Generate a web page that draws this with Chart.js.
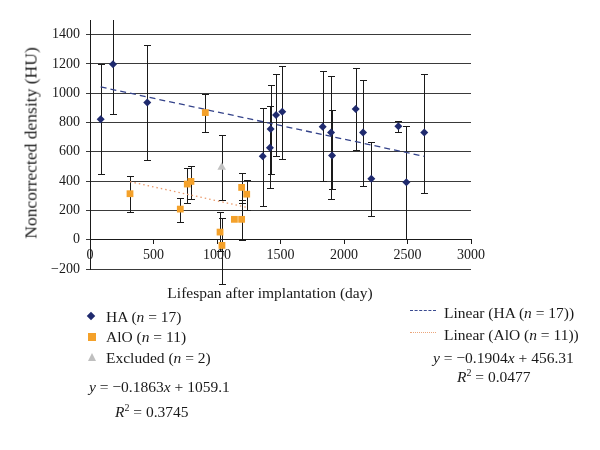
<!DOCTYPE html>
<html lang="en">
<head>
    <meta charset="UTF-8">
    <title>Noncorrected density vs lifespan</title>
    <script src="https://cdn.jsdelivr.net/npm/chart.js"></script>
    <style>
        body {
            margin: 0;
            background-color: #ffffff;
            font-family: "Liberation Serif", "DejaVu Serif", serif;
            color: #1a1a1a;
        }
        #wrap {
            position: relative;
            width: 600px;
            height: 450px;
            overflow: hidden;
        }
        canvas {
            position: absolute;
            left: 0;
            top: 0;
        }
        .txt {
            position: absolute;
            font-size: 15.5px;
            line-height: 16px;
            white-space: nowrap;
        }
        .ytitle {
            position: absolute;
            left: 31px;
            top: 143px;
            font-size: 17.5px;
            white-space: nowrap;
            transform: translate(-50%, -50%) rotate(-90deg);
        }
        .xtitle {
            position: absolute;
            left: 270px;
            top: 293px;
            font-size: 15.5px;
            white-space: nowrap;
            transform: translate(-50%, -50%);
        }
        .icon { position: absolute; }
    </style>
</head>
<body>
<div id="wrap">
    <canvas id="chart" width="600" height="450"></canvas>

    <div class="ytitle">Noncorrected density (HU)</div>
    <div class="xtitle">Lifespan after implantation (day)</div>

    <!-- left legend -->
    <div class="icon" style="left:88px;top:313px;width:6px;height:6px;background:#1f2a6e;transform:rotate(45deg);"></div>
    <div class="txt" style="left:106px;top:309px;">HA (<i>n</i> = 17)</div>
    <div class="icon" style="left:88px;top:333px;width:8px;height:8px;background:#f4a12a;"></div>
    <div class="txt" style="left:106px;top:329px;">AlO (<i>n</i> = 11)</div>
    <div class="icon" style="left:88px;top:353px;width:0;height:0;border-left:4.5px solid transparent;border-right:4.5px solid transparent;border-bottom:8px solid #bfbfbf;"></div>
    <div class="txt" style="left:106px;top:350px;">Excluded (<i>n</i> = 2)</div>
    <div class="txt" style="left:89px;top:379px;"><i>y</i> = −0.1863<i>x</i> + 1059.1</div>
    <div class="txt" style="left:115px;top:404px;"><i>R</i><sup style="font-size:10px;line-height:0;">2</sup> = 0.3745</div>

    <!-- right legend -->
    <div class="icon" style="left:410px;top:310px;width:26px;border-top:1.5px dashed #3a4a90;"></div>
    <div class="txt" style="left:444px;top:305px;">Linear (HA (<i>n</i> = 17))</div>
    <div class="icon" style="left:410px;top:332px;width:26px;border-top:1.5px dotted #eba57a;"></div>
    <div class="txt" style="left:444px;top:327px;">Linear (AlO (<i>n</i> = 11))</div>
    <div class="txt" style="left:433px;top:350px;"><i>y</i> = −0.1904<i>x</i> + 456.31</div>
    <div class="txt" style="left:457px;top:369px;"><i>R</i><sup style="font-size:10px;line-height:0;">2</sup> = 0.0477</div>
</div>

<script>
    // HA (n = 17): lifespan (day), density (HU), error bar ends
    const haDays = [84, 181, 451, 1360, 1417, 1422, 1465, 1514, 1832, 1898, 1906, 2092, 2150, 2215, 2428, 2491, 2632];
    const haHU   = [822, 1198, 936, 570, 627, 755, 852, 873, 772, 732, 575, 893, 732, 416, 775, 393, 732];
    const haHigh = [1198, 1540, 1331, 902, 916, 1057, 1132, 1188, 1154, 1120, 886, 1175, 1091, 666, 809, 773, 1134];
    const haLow  = [452, 857, 543, 232, 352, 450, 573, 550, 398, 277, 345, 613, 368, 164, 738, 5, 322];

    // AlO (n = 11)
    const aloDays = [315, 711, 766, 795, 908, 1024, 1039, 1137, 1194, 1194, 1234];
    const aloHU   = [314, 209, 380, 398, 868, 52, -39, 139, 139, 357, 311];
    const aloHigh = [436, 286, 489, 504, 998, 186, 148, null, 273, 454, 409];
    const aloLow  = [186, 120, 250, 280, 732, -80, -305, null, -5, 250, 205];

    // Excluded (n = 2) - only one is visible in the figure
    const exDays = [1037];
    const exHU   = [495];
    const exHigh = [718];
    const exLow  = [273];

    // trend lines (end points)
    const haTrendDays = [84, 2632];
    const haTrendHU   = [1043, 569];
    const aloTrendDays = [315, 1234];
    const aloTrendHU   = [396, 221];

    const yTicks = [-200, 0, 200, 400, 600, 800, 1000, 1200, 1400];

    const pts = (xs, ys) => xs.map((x, i) => ({ x: x, y: ys[i] }));

    const errorBars = {
        id: 'errorBars',
        beforeDatasetsDraw(chart) {
            const { ctx, chartArea, scales } = chart;
            const groups = [
                [haDays, haHigh, haLow],
                [aloDays, aloHigh, aloLow],
                [exDays, exHigh, exLow]
            ];
            ctx.save();
            ctx.beginPath();
            ctx.rect(0, chartArea.top, chart.width, chart.height - chartArea.top);
            ctx.clip();
            ctx.strokeStyle = '#1a1a1a';
            ctx.lineWidth = 1;
            groups.forEach(([xs, hi, lo]) => {
                xs.forEach((d, i) => {
                    if (hi[i] == null) return;
                    const x = Math.round(scales.x.getPixelForValue(d)) + 0.5;
                    const y1 = Math.round(scales.y.getPixelForValue(hi[i])) + 0.5;
                    const y2 = Math.round(scales.y.getPixelForValue(lo[i])) + 0.5;
                    ctx.beginPath();
                    ctx.moveTo(x, y1); ctx.lineTo(x, y2);
                    ctx.moveTo(x - 3.5, y1); ctx.lineTo(x + 3.5, y1);
                    ctx.moveTo(x - 3.5, y2); ctx.lineTo(x + 3.5, y2);
                    ctx.stroke();
                });
            });
            ctx.restore();
        }
    };

    const tickFont = { family: '"Liberation Serif", serif', size: 14 };

    new Chart(document.getElementById('chart'), {
        type: 'scatter',
        data: {
            datasets: [
                {
                    label: 'HA (n = 17)',
                    data: pts(haDays, haHU),
                    pointStyle: 'rectRot',
                    pointRadius: 4,
                    backgroundColor: '#1f2a6e',
                    borderColor: '#1f2a6e',
                    borderWidth: 0
                },
                {
                    label: 'AlO (n = 11)',
                    data: pts(aloDays, aloHU),
                    pointStyle: 'rect',
                    pointRadius: 4.8,
                    backgroundColor: '#f4a12a',
                    borderColor: '#f4a12a',
                    borderWidth: 0
                },
                {
                    label: 'Excluded (n = 2)',
                    data: pts(exDays, exHU),
                    pointStyle: 'triangle',
                    pointRadius: 5,
                    backgroundColor: '#c2c2c2',
                    borderColor: '#c2c2c2',
                    borderWidth: 0
                },
                {
                    label: 'Linear (HA (n = 17))',
                    data: pts(haTrendDays, haTrendHU),
                    showLine: true,
                    pointRadius: 0,
                    borderColor: '#34438a',
                    borderWidth: 1.3,
                    borderDash: [6, 4]
                },
                {
                    label: 'Linear (AlO (n = 11))',
                    data: pts(aloTrendDays, aloTrendHU),
                    showLine: true,
                    pointRadius: 0,
                    borderColor: '#ea9a6c',
                    borderWidth: 1.3,
                    borderDash: [1.5, 3]
                }
            ]
        },
        options: {
            responsive: false,
            animation: false,
            events: [],
            layout: { padding: { top: 20, left: 0, right: 129, bottom: 181 } },
            plugins: {
                legend: { display: false },
                tooltip: { enabled: false }
            },
            scales: {
                x: {
                    type: 'linear',
                    position: { y: 0 },
                    min: 0,
                    max: 3000,
                    ticks: {
                        stepSize: 500,
                        font: tickFont,
                        color: '#1a1a1a',
                        padding: 3,
                        maxRotation: 0,
                        callback: v => String(v)
                    },
                    grid: { drawOnChartArea: false, drawTicks: true, tickLength: 4, color: '#1a1a1a' },
                    border: { display: true, color: '#1a1a1a', width: 1 }
                },
                y: {
                    min: -200,
                    max: 1500,
                    afterBuildTicks: s => { s.ticks = yTicks.map(v => ({ value: v })); },
                    afterFit: s => { s.width = 90; },
                    ticks: {
                        font: tickFont,
                        color: '#1a1a1a',
                        padding: 6,
                        callback: v => (v < 0 ? '\u2212' + Math.abs(v) : String(v))
                    },
                    grid: { color: '#3a3a3a', tickLength: 4, lineWidth: 1 },
                    border: { display: true, color: '#1a1a1a', width: 1 }
                }
            }
        },
        plugins: [errorBars]
    });
</script>
</body>
</html>
